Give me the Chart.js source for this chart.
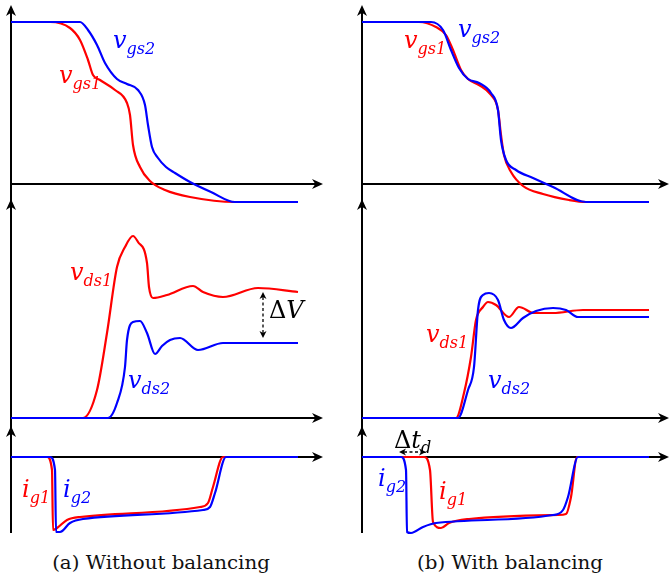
<!DOCTYPE html>
<html>
<head>
<meta charset="utf-8">
<script src="https://cdn.jsdelivr.net/npm/chart.js@4.4.1/dist/chart.umd.min.js"></script>
<style>
  body { margin: 0; background: #fff; }
  #page { position: relative; width: 671px; height: 581px; overflow: hidden; }
  canvas { position: absolute; }
  .lbl { position: absolute; font-family: "DejaVu Serif", serif; font-style: italic; font-size: 24px; line-height: 26px; white-space: nowrap; }
  .lbl sub { font-size: 16px; vertical-align: baseline; position: relative; top: 6px; }
  .red { color: #ff0000; }
  .blue { color: #0000ff; }
  .blk { color: #000; }
  .up { font-style: normal; }
  .cap { position: absolute; font-family: "DejaVu Serif", serif; font-size: 18px; line-height: 20px; white-space: nowrap; color: #111; transform: translateX(-50%) scaleX(1.1); }
</style>
</head>
<body>
<div id="page">
  <canvas id="p1" width="336" height="212" style="left:0;top:0"></canvas>
  <canvas id="p2" width="335" height="212" style="left:336px;top:0"></canvas>
  <canvas id="p3" width="336" height="240" style="left:0;top:192px"></canvas>
  <canvas id="p4" width="335" height="240" style="left:336px;top:192px"></canvas>
  <canvas id="p5" width="336" height="120" style="left:0;top:420px"></canvas>
  <canvas id="p6" width="335" height="120" style="left:336px;top:420px"></canvas>

  <div class="lbl blue" style="left:113px;top:27px">v<sub>gs2</sub></div>
  <div class="lbl red" style="left:59px;top:62px">v<sub>gs1</sub></div>
  <div class="lbl red" style="left:404px;top:27px">v<sub>gs1</sub></div>
  <div class="lbl blue" style="left:458px;top:16px">v<sub>gs2</sub></div>

  <div class="lbl red" style="left:70px;top:259px">v<sub>ds1</sub></div>
  <div class="lbl blue" style="left:128px;top:367px">v<sub>ds2</sub></div>
  <div class="lbl blk" style="left:269px;top:297px"><span class="up">Δ</span>V</div>
  <div class="lbl red" style="left:426px;top:321px">v<sub>ds1</sub></div>
  <div class="lbl blue" style="left:488px;top:367px">v<sub>ds2</sub></div>

  <div class="lbl red" style="left:22px;top:476px">i<sub>g1</sub></div>
  <div class="lbl blue" style="left:63px;top:476px">i<sub>g2</sub></div>
  <div class="lbl blk" style="left:394px;top:427px;font-size:24px"><span class="up">Δ</span>t<sub style="font-size:16px;top:5px">d</sub></div>
  <div class="lbl blue" style="left:378px;top:465px">i<sub>g2</sub></div>
  <div class="lbl red" style="left:439px;top:478px">i<sub>g1</sub></div>

  <div class="cap" style="left:161px;top:553px">(a) Without balancing</div>
  <div class="cap" style="left:510px;top:553px">(b) With balancing</div>
</div>
<script>
const vgs1Without = [[0,162],[39,162],[59,156],[69,144],[77,124],[82,109],[89,104],[104,94],[116,81],[119,69],[122,39],[129,17],[139,3],[154,-6],[179,-13],[224,-18],[287,-18]];
const vgs2Without = [[0,162],[69,162],[77,154],[86,139],[94,121],[106,105],[116,100],[127,94],[134,79],[137,59],[141,37],[147,26],[155,17],[164,11],[179,2],[200,-8],[224,-18],[287,-18]];
const vgs1With = [[0,162],[57,162],[74,157],[84,149],[91,134],[99,114],[106,105],[117,99],[129,89],[136,74],[139,49],[142,29],[149,12],[161,-2],[181,-10],[207,-16],[224,-18],[287,-18]];
const vgs2With = [[0,162],[69,162],[81,154],[89,134],[97,116],[106,105],[117,101],[129,91],[136,74],[139,44],[144,24],[154,14],[171,6],[191,-3],[224,-18],[287,-18]];

const vds1Without = [[0,0],[72,0],[86,28],[96,85],[106,151],[114,171],[122,182],[127,176],[136,155],[138,131],[142,120],[156,123],[182,132],[192,126],[212,121],[247,130],[287,126]];
const vds2Without = [[0,0],[97,0],[106,15],[114,51],[116,78],[122,96],[129,97],[136,85],[144,64],[151,72],[159,78],[169,80],[187,68],[212,75],[287,75]];
const vds1With = [[0,0],[94,0],[102,25],[109,61],[114,98],[121,111],[126,116],[134,113],[147,101],[157,111],[172,105],[191,105],[221,108],[287,108]];
const vds2With = [[0,0],[96,0],[106,28],[112,51],[116,108],[121,123],[127,125],[136,118],[142,98],[149,90],[161,100],[174,107],[191,110],[204,108],[216,101],[287,101]];

const ig1Without = [[0,0],[36,0],[41,-13],[42,-73],[46,-71],[56,-63],[69,-60],[189,-50],[197,-46],[202,-30],[212,0],[287,0]];
const ig2Without = [[0,0],[39,0],[44,-13],[45,-75],[49,-75],[59,-66],[72,-62],[192,-53],[199,-50],[204,-36],[215,0],[287,0]];
const ig1With = [[0,0],[62,0],[68,-13],[71,-65],[79,-71],[87,-66],[107,-62],[196,-58],[204,-57],[209,-40],[215,0],[287,0]];
const ig2With = [[0,0],[39,0],[44,-13],[45,-75],[49,-76],[61,-70],[74,-66],[191,-58],[201,-53],[206,-40],[216,0],[287,0]];

const RED = '#ff0000';
const BLUE = '#0000ff';

// canvas placement and the axis origin inside it (page pixels)
const panels = [
  { id: 'p1', left: 0,   top: 0,   ox: 11,  oy: 184, yFrom: -22, yTo: 179, xTo: 312, blue: vgs2Without, red: vgs1Without },
  { id: 'p2', left: 336, top: 0,   ox: 362, oy: 184, yFrom: -22, yTo: 179, xTo: 307, blue: vgs2With,    red: vgs1With },
  { id: 'p3', left: 0,   top: 192, ox: 11,  oy: 418, yFrom: -10, yTo: 219, xTo: 312, blue: vds2Without, red: vds1Without,
    marks: [{ x1: 252, y1: 126, x2: 252, y2: 80 }] },
  { id: 'p4', left: 336, top: 192, ox: 362, oy: 418, yFrom: -10, yTo: 219, xTo: 307, blue: vds2With,    red: vds1With },
  { id: 'p5', left: 0,   top: 420, ox: 11,  oy: 457, yFrom: -76, yTo: 31,  xTo: 312, blue: ig2Without,  red: ig1Without },
  { id: 'p6', left: 336, top: 420, ox: 362, oy: 457, yFrom: -76, yTo: 31,  xTo: 307, blue: ig2With,     red: ig1With,
    marks: [{ x1: 37, y1: 5, x2: 64, y2: 5 }] }
];

function arrowHead(ctx, tx, ty, dx, dy, len, half) {
  // stealth-ish head pointing along (dx, dy)
  const bx = tx - dx * len, by = ty - dy * len;
  const nx = -dy, ny = dx;
  ctx.beginPath();
  ctx.moveTo(tx, ty);
  ctx.lineTo(bx + nx * half, by + ny * half);
  ctx.lineTo(tx - dx * len * 0.7, ty - dy * len * 0.7);
  ctx.lineTo(bx - nx * half, by - ny * half);
  ctx.closePath();
  ctx.fill();
}

const axesPlugin = {
  id: 'arrowAxes',
  beforeDatasetsDraw(chart, args, opts) {
    const { ctx, scales: { x, y } } = chart;
    const x0 = x.getPixelForValue(0), y0 = y.getPixelForValue(0);
    const yTop = y.getPixelForValue(opts.yTo), yBot = y.getPixelForValue(opts.yFrom);
    const xEnd = x.getPixelForValue(opts.xTo);
    ctx.save();
    ctx.strokeStyle = '#000';
    ctx.fillStyle = '#000';
    ctx.lineWidth = 2;
    ctx.beginPath();
    ctx.moveTo(x0, yBot);
    ctx.lineTo(x0, yTop + 6);
    ctx.moveTo(x0, y0);
    ctx.lineTo(xEnd - 6, y0);
    ctx.stroke();
    arrowHead(ctx, x0, yTop, 0, -1, 11, 5);
    arrowHead(ctx, xEnd, y0, 1, 0, 11, 5);
    ctx.restore();
  },
  afterDatasetsDraw(chart, args, opts) {
    if (!opts.marks) return;
    const { ctx, scales: { x, y } } = chart;
    ctx.save();
    ctx.strokeStyle = '#000';
    ctx.fillStyle = '#000';
    ctx.lineWidth = 1.3;
    opts.marks.forEach(m => {
      const ax = x.getPixelForValue(m.x1), ay = y.getPixelForValue(m.y1);
      const bx = x.getPixelForValue(m.x2), by = y.getPixelForValue(m.y2);
      const L = Math.hypot(bx - ax, by - ay), dx = (bx - ax) / L, dy = (by - ay) / L;
      ctx.setLineDash([3, 2.5]);
      ctx.beginPath();
      ctx.moveTo(ax + dx * 5, ay + dy * 5);
      ctx.lineTo(bx - dx * 5, by - dy * 5);
      ctx.stroke();
      ctx.setLineDash([]);
      arrowHead(ctx, bx, by, dx, dy, 7, 3.5);
      arrowHead(ctx, ax, ay, -dx, -dy, 7, 3.5);
    });
    ctx.restore();
  }
};

function series(pairs, color) {
  return {
    data: pairs.map(p => ({ x: p[0], y: p[1] })),
    borderColor: color,
    borderWidth: 2.2,
    pointRadius: 0,
    fill: false,
    cubicInterpolationMode: 'monotone',
    borderJoinStyle: 'round',
    clip: false
  };
}

panels.forEach(p => {
  const cv = document.getElementById(p.id);
  const w = cv.width, h = cv.height;
  new Chart(cv, {
    type: 'line',
    data: { datasets: [series(p.blue, BLUE), series(p.red, RED)] },
    options: {
      responsive: false,
      animation: false,
      devicePixelRatio: 1,
      layout: { padding: 0 },
      scales: {
        x: { type: 'linear', display: false, min: p.left - p.ox, max: p.left + w - p.ox },
        y: { type: 'linear', display: false, min: p.oy - (p.top + h), max: p.oy - p.top }
      },
      plugins: {
        legend: { display: false },
        tooltip: { enabled: false },
        arrowAxes: { yFrom: p.yFrom, yTo: p.yTo, xTo: p.xTo, marks: p.marks }
      }
    },
    plugins: [axesPlugin]
  });
});
</script>
</body>
</html>
